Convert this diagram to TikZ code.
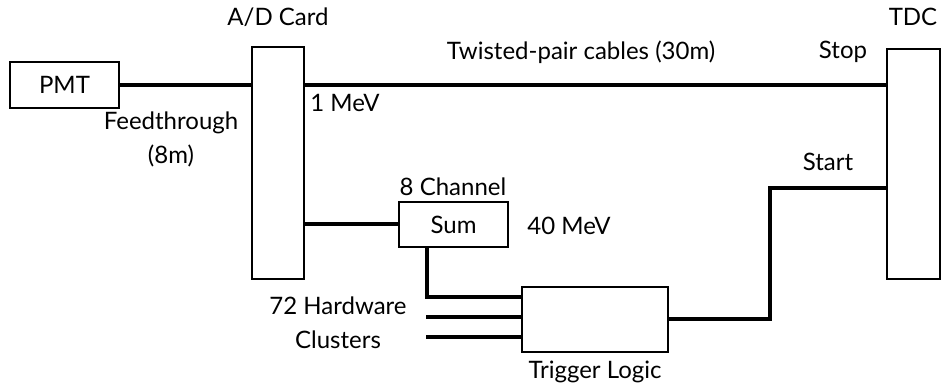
\documentclass[tikz,border=0pt]{standalone}
\usepackage{fontspec}
\setmainfont{Lato}
\usetikzlibrary{positioning}

\begin{document}
\begin{tikzpicture}[x=1pt, y=-1pt,
    unit/.style={rectangle, draw=black, line width=2.6pt, inner sep=0pt, font=\fontsize{24}{28}\selectfont},
    wire/.style={line width=4pt},
    lbl/.style={font=\fontsize{24}{34}\selectfont, align=center, inner sep=0pt}
]
    \useasboundingbox (0,0) rectangle (946,387);

    % Boxes
    \node[unit, minimum width=109pt, minimum height=46pt] (pmt) at (64.5,85) {PMT};
    \node[unit, minimum width=52pt, minimum height=232pt] (adcard) at (278,163) {};
    \node[unit, minimum width=53pt, minimum height=230pt] (tdc) at (913.5,164) {};
    \node[unit, minimum width=109pt, minimum height=45pt] (chsum) at (453.5,224.5) {Sum};
    \node[unit, minimum width=146pt, minimum height=65pt] (trigger) at (595,319.5) {};

    % Labels
    \node[lbl] (adlabel) at (278,17) {A/D Card};
    \node[lbl] (tdclabel) at (913,17) {TDC};
    \node[lbl] (cables) at (581,52) {Twisted-pair cables (30m)};
    \node[lbl] (stop) at (843,52) {Stop};
    \node[lbl] (onemev) at (345,103) {1 MeV};
    \node[lbl] (feed) at (171,139) {Feedthrough\\(8m)};
    \node[lbl] (start) at (828,162) {Start};
    \node[lbl] (chlabel) at (453,187) {8 Channel};
    \node[lbl] (fortymev) at (569,226) {40 MeV};
    \node[lbl] (hwlabel) at (338,323) {72 Hardware\\Clusters};
    \node[lbl] (triglabel) at (595,372) {Trigger Logic};

    % Connectors
    \coordinate (hwa) at (426,317);
    \coordinate (hwb) at (426,337);
    \coordinate (bend) at (770,188);
    \draw[wire] (pmt.east) -- (pmt.east -| adcard.west);
    \draw[wire] (adcard.east |- pmt.east) -- (tdc.west |- pmt.east);
    \draw[wire] (chsum.west -| adcard.east) -- (chsum.west);
    \draw[wire] ([xshift=-26.5pt]chsum.south) |- ([yshift=22.5pt]trigger.west);
    \draw[wire] (hwa) -- (hwa -| trigger.west);
    \draw[wire] (hwb) -- (hwb -| trigger.west);
    \draw[wire] (trigger.east) -| (bend) -- (bend -| tdc.west);

\end{tikzpicture}
\end{document}
